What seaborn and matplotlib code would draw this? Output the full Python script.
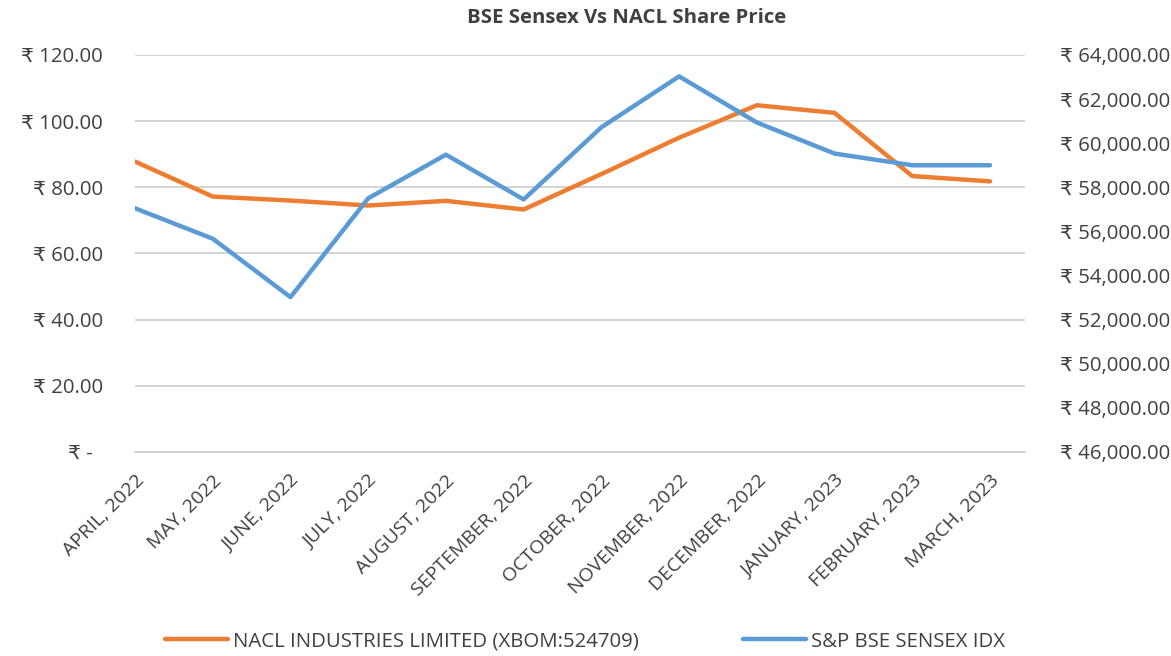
import pandas as pd
import matplotlib.pyplot as plt
import seaborn as sns
from matplotlib.ticker import FuncFormatter

# --- data ---
months = ['APRIL, 2022', 'MAY, 2022', 'JUNE, 2022', 'JULY, 2022', 'AUGUST, 2022',
          'SEPTEMBER, 2022', 'OCTOBER, 2022', 'NOVEMBER, 2022', 'DECEMBER, 2022',
          'JANUARY, 2023', 'FEBRUARY, 2023', 'MARCH, 2023']
nacl_price = [87.8, 77.2, 76.0, 74.5, 75.9, 73.3, 84.0, 95.0, 104.8, 102.5, 83.4, 81.8]
sensex = [57050, 55670, 53020, 57500, 59480, 57450, 60720, 63030, 60940, 59530, 59000, 59000]

nacl_label = 'NACL INDUSTRIES LIMITED (XBOM:524709)'
sensex_label = 'S&P BSE SENSEX IDX'

df = pd.DataFrame({'idx': range(len(months)), 'Month': months,
                   'NACL': nacl_price, 'SENSEX': sensex})

sns.set_style('white')
plt.rcParams['font.family'] = ['Open Sans', 'DejaVu Sans']
text_col = '#404040'
grid_col = '#c8c8c8'
orange = '#ED7D31'
blue = '#5B9BD5'

fig = plt.figure(figsize=(11.71, 6.56), dpi=100)
ax = fig.add_axes([0.1153, 0.311, 0.76, 0.6052])
ax2 = ax.twinx()

sns.lineplot(ax=ax, data=df, x='idx', y='NACL', color=orange, linewidth=3.2,
             label=nacl_label, legend=False, zorder=3)
sns.lineplot(ax=ax2, data=df, x='idx', y='SENSEX', color=blue, linewidth=3.2,
             label=sensex_label, legend=False, zorder=3)

ax.set_xlim(0, 11.45)
ax.set_ylim(0, 120)
ax2.set_ylim(46000, 64000)
ax.set_yticks(range(0, 121, 20))
ax2.set_yticks(range(46000, 64001, 2000))

# accounting-style labels: zero shown as a dash, indented a little
ax.yaxis.set_major_formatter(FuncFormatter(lambda v, p: '₹ -  ' if v == 0 else f'₹ {v:,.2f}'))
ax2.yaxis.set_major_formatter(FuncFormatter(lambda v, p: f'₹ {v:,.2f}'))

ax.grid(axis='y', color=grid_col, linewidth=1.1)
ax.set_axisbelow(True)
for a in (ax, ax2):
    for s in ['top', 'left', 'right', 'bottom']:
        a.spines[s].set_visible(False)
ax.spines['bottom'].set_visible(True)
ax.spines['bottom'].set_color(grid_col)
ax.spines['bottom'].set_linewidth(1.1)

ax.set_xticks(df['idx'])
ax.set_xticklabels(months, rotation=45, ha='right', rotation_mode='anchor')
ax.tick_params(axis='x', length=10, width=1.1, color=grid_col, labelsize=14,
               labelcolor=text_col, pad=4)
ax.tick_params(axis='y', length=0, labelsize=14.7, labelcolor=text_col, pad=23)
ax2.tick_params(axis='y', length=0, labelsize=14.7, labelcolor=text_col, pad=25)

ax.set_xlabel('')
ax.set_ylabel('')
ax2.set_ylabel('')

fig.text(0.535, 0.972, 'BSE Sensex Vs NACL Share Price', ha='center', va='center',
         fontsize=14.7, fontweight='bold', color=text_col)

handles = ax.get_lines()[:1] + ax2.get_lines()[:1]
fig.legend(handles, [nacl_label, sensex_label], loc='center', bbox_to_anchor=(0.4995, 0.022),
           ncol=2, frameon=False, fontsize=14.7, labelcolor=text_col, handlelength=3.1,
           handletextpad=0.25, columnspacing=5.1)

plt.savefig('out.png', dpi=100)
